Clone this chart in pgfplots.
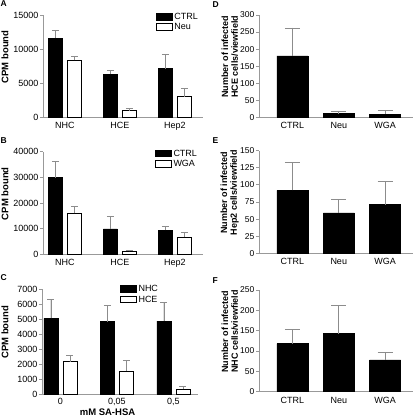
\documentclass[border=0pt]{standalone}
\usepackage{pgfplots}
\pgfplotsset{compat=1.18}
\usepackage{fontspec}
\setmainfont{Liberation Sans}
\definecolor{axgray}{HTML}{999999}
\definecolor{errgray}{HTML}{8C8C8C}
\pgfplotsset{
  panel/.style={
    scale only axis, anchor=south west, clip=false,
    axis x line*=bottom, axis y line*=left,
    axis line style={draw=axgray, line width=0.9pt},
    ymin=0, xtick={0,1,2},
    xtick style={draw=none},
    ytick style={draw=axgray, line width=0.9pt},
    tick align=outside, major tick length=3pt,
    tick label style={font=\fontsize{9}{10}\selectfont},
    yticklabel style={inner xsep=1.5pt, /pgf/number format/fixed, /pgf/number format/1000 sep={}},
    xticklabel style={inner ysep=2pt},
    /pgf/number format/assume math mode=true,
    scaled y ticks=false,
    ylabel style={font=\bfseries\fontsize{9.5}{10.5}\selectfont, align=center, anchor=center},
    legend style={draw=none, fill=none, inner sep=0pt, font=\fontsize{9}{10}\selectfont,
      anchor=north west, row sep=1.5pt, nodes={inner xsep=1.5pt, inner ysep=0.5pt}},
    legend cell align=left,
    legend image code/.code={\draw[#1, line width=0.8pt] (0pt,-3pt) rectangle (16pt,3.5pt);},
    error bars/error bar style={draw=errgray, line width=0.8pt},
    error bars/error mark options={rotate=90, draw=errgray, line width=0.8pt, mark size=3.5pt},
  },
  leftp/.style={panel, width=160pt, xmin=-0.4, xmax=2.51,
    ylabel={CPM bound}, ylabel style={at={(axis description cs:-0.2375,0.59)}}},
  rightp/.style={panel, width=154pt, xmin=-0.724, xmax=2.605,
    xticklabels={CTRL,Neu,WGA},
    yticklabel style={font=\fontsize{8.5}{9.5}\selectfont},
    ylabel style={at={(axis description cs:-0.19,0.59)},
      font=\bfseries\fontsize{9}{9.8}\selectfont},
    error bars/error mark options={rotate=90, draw=errgray, line width=0.8pt, mark size=7.5pt}},
  blk/.style={ybar, bar shift=0pt, fill=black, draw=black, line width=0.8pt},
  wht/.style={ybar, bar shift=0pt, fill=white, draw=black, line width=0.8pt},
}
\begin{document}
\begin{tikzpicture}
\useasboundingbox (0pt,0pt) rectangle (416pt,420pt);
\tikzset{plab/.style={anchor=north west, inner sep=0pt, font=\bfseries\fontsize{8.5}{9}\selectfont}}
\node[plab] at (0.5pt,419.5pt) {A};
\node[plab] at (0.5pt,283pt) {B};
\node[plab] at (0.5pt,145.5pt) {C};
\node[plab] at (212.5pt,419pt) {D};
\node[plab] at (212.5pt,283pt) {E};
\node[plab] at (212.5pt,143pt) {F};

% Panel A
\begin{axis}[leftp, at={(43pt,303pt)}, height=102pt, ymax=15000,
  ytick={0,5000,10000,15000}, xticklabels={NHC,HCE,Hep2},
  legend style={at={(axis description cs:0.705,1.025)}}]
\addplot[blk, bar width=14pt, error bars/.cd, y dir=plus, y explicit]
  coordinates {(-0.173,11600) +- (0,1150) (0.827,6250) +- (0,600) (1.827,7100) +- (0,2150)};
\addplot[wht, bar width=14pt, error bars/.cd, y dir=plus, y explicit]
  coordinates {(0.173,8350) +- (0,550) (1.173,950) +- (0,270) (2.173,3000) +- (0,1230)};
\legend{CTRL,Neu}
\end{axis}

% Panel B
\begin{axis}[leftp, at={(43pt,165.7pt)}, height=102.6pt, ymax=40000,
  ytick={0,10000,20000,30000,40000}, xticklabels={NHC,HCE,Hep2},
  legend style={at={(axis description cs:0.70,1.025)}}]
\addplot[blk, bar width=14pt, error bars/.cd, y dir=plus, y explicit]
  coordinates {(-0.173,29900) +- (0,6400) (0.827,9900) +- (0,5000) (1.827,9400) +- (0,1300)};
\addplot[wht, bar width=14pt, error bars/.cd, y dir=plus, y explicit]
  coordinates {(0.173,16100) +- (0,2500) (1.173,1150) +- (0,400) (2.173,6750) +- (0,1800)};
\legend{CTRL,WGA}
\end{axis}

% Panel C
\begin{axis}[panel, at={(42pt,25.7pt)}, width=156pt, height=105.3pt, ymax=7000,
  xmin=-0.327, xmax=2.434,
  ytick={0,1000,2000,3000,4000,5000,6000,7000}, xticklabels={0,{0,05},{0,5}},
  xticklabel style={inner ysep=1pt},
  ylabel={CPM bound}, ylabel style={at={(axis description cs:-0.237,0.59)}},
  xlabel={mM SA-HSA}, xlabel style={at={(axis description cs:0.42,-0.168)}, anchor=center,
    font=\bfseries\fontsize{9.5}{10.5}\selectfont},
  legend style={at={(axis description cs:0.50,1.04)}}]
\addplot[blk, bar width=14pt, error bars/.cd, y dir=plus, y explicit]
  coordinates {(-0.168,5040) +- (0,1260) (0.832,4820) +- (0,1080) (1.832,4870) +- (0,1250)};
\addplot[wht, bar width=14pt, error bars/.cd, y dir=plus, y explicit]
  coordinates {(0.168,2170) +- (0,440) (1.168,1550) +- (0,680) (2.168,350) +- (0,160)};
\legend{NHC,HCE}
\end{axis}

% Panel D
\begin{axis}[rightp, at={(259pt,302.7pt)}, height=102.3pt, ymax=300,
  ytick={0,50,100,150,200,250,300},
  ylabel={Number of infected\\HCE cells/viewfield}]
\addplot[blk, bar width=31pt, error bars/.cd, y dir=plus, y explicit]
  coordinates {(0,180) +- (0,82) (1,11) +- (0,7) (2,9) +- (0,11)};
\end{axis}

% Panel E
\begin{axis}[rightp, at={(259pt,166.7pt)}, height=102.6pt, ymax=150,
  ytick={0,25,50,75,100,125,150},
  ylabel={Number of infected\\Hep2 cells/viewfield}]
\addplot[blk, bar width=31pt, error bars/.cd, y dir=plus, y explicit]
  coordinates {(0,92) +- (0,41) (1,59) +- (0,20) (2,71) +- (0,34)};
\end{axis}

% Panel F
\begin{axis}[rightp, at={(259pt,28.3pt)}, height=101.7pt, ymax=250,
  ytick={0,50,100,150,200,250},
  ylabel={Number of infected\\NHC cells/viewfield}]
\addplot[blk, bar width=31pt, error bars/.cd, y dir=plus, y explicit]
  coordinates {(0,118) +- (0,34) (1,143) +- (0,68) (2,78) +- (0,19)};
\end{axis}
\end{tikzpicture}
\end{document}
